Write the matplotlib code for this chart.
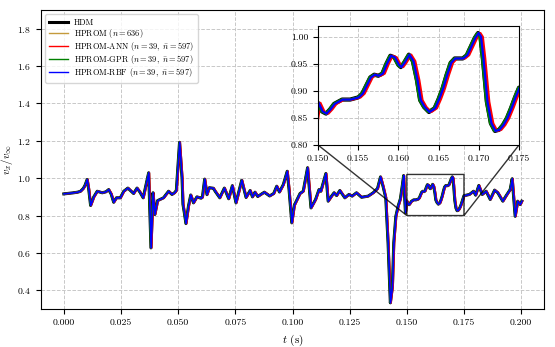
"""
velocity probe: HDM vs HPROM variants, with zoomed inset
"""
import matplotlib
matplotlib.use("Agg")
import matplotlib.pyplot as plt

# HDM trace (t in s, v_x / v_inf)
t_hdm = [0.0000, 0.0037, 0.0060, 0.0073, 0.0085, 0.0092, 0.0102, 0.0109, 0.0117, 0.0131,
         0.0146, 0.0168, 0.0184, 0.0196, 0.0207, 0.0218, 0.0230, 0.0247, 0.0262, 0.0280,
         0.0305, 0.0320, 0.0333, 0.0347, 0.0371, 0.0381, 0.0390, 0.0398, 0.0410, 0.0436,
         0.0458, 0.0473, 0.0484, 0.0492, 0.0506, 0.0517, 0.0521, 0.0527, 0.0534, 0.0545,
         0.0555, 0.0567, 0.0582, 0.0600, 0.0606, 0.0616, 0.0626, 0.0636, 0.0654, 0.0662,
         0.0682, 0.0702, 0.0721, 0.0737, 0.0753, 0.0778, 0.0797, 0.0815, 0.0825, 0.0836,
         0.0848, 0.0877, 0.0900, 0.0918, 0.0931, 0.0943, 0.0960, 0.0977, 0.0985, 0.0997,
         0.1008, 0.1033, 0.1047, 0.1066, 0.1081, 0.1101, 0.1116, 0.1124, 0.1146, 0.1156,
         0.1171, 0.1182, 0.1193, 0.1207, 0.1229, 0.1247, 0.1261, 0.1280, 0.1302, 0.1331,
         0.1353, 0.1372, 0.1385, 0.1396, 0.1408, 0.1418, 0.1428, 0.1437, 0.1443, 0.1452,
         0.1462, 0.1472, 0.1481, 0.1486, 0.1494, 0.1500, 0.1505, 0.1510, 0.1515, 0.1520,
         0.1530, 0.1540, 0.1550, 0.1555, 0.1560, 0.1565, 0.1570, 0.1575, 0.1580, 0.1585,
         0.1590, 0.1595, 0.1600, 0.1603, 0.1607, 0.1613, 0.1618, 0.1623, 0.1627, 0.1632,
         0.1638, 0.1645, 0.1650, 0.1655, 0.1660, 0.1665, 0.1670, 0.1675, 0.1680, 0.1685,
         0.1690, 0.1695, 0.1699, 0.1702, 0.1705, 0.1710, 0.1715, 0.1720, 0.1725, 0.1730,
         0.1735, 0.1740, 0.1745, 0.1750, 0.1774, 0.1792, 0.1801, 0.1815, 0.1830, 0.1847,
         0.1865, 0.1884, 0.1898, 0.1920, 0.1935, 0.1952, 0.1961, 0.1974, 0.1985, 0.1996,
         0.2003]
v_hdm = [0.916, 0.921, 0.925, 0.930, 0.945, 0.960, 0.993, 0.939, 0.854, 0.900,
         0.930, 0.922, 0.927, 0.939, 0.915, 0.871, 0.895, 0.895, 0.930, 0.947,
         0.918, 0.947, 0.925, 0.895, 1.029, 0.627, 0.922, 0.806, 0.880, 0.895,
         0.930, 0.913, 0.922, 0.934, 1.192, 1.000, 0.860, 0.815, 0.757, 0.850,
         0.910, 0.868, 0.900, 0.893, 0.898, 0.995, 0.912, 0.949, 0.946, 0.930,
         0.895, 0.947, 0.890, 0.960, 0.868, 0.989, 0.897, 0.934, 0.900, 0.925,
         0.902, 0.925, 0.905, 0.918, 0.957, 0.926, 0.966, 1.037, 0.939, 0.761,
         0.855, 0.918, 0.930, 1.056, 0.841, 0.886, 0.939, 0.930, 1.025, 0.877,
         0.904, 0.922, 0.907, 0.934, 0.895, 0.913, 0.904, 0.922, 0.898, 0.904,
         0.922, 0.945, 1.007, 0.957, 0.895, 0.654, 0.333, 0.421, 0.654, 0.796,
         0.850, 0.890, 0.966, 1.014, 0.815, 0.878, 0.862, 0.858, 0.866, 0.876,
         0.884, 0.884, 0.888, 0.895, 0.910, 0.925, 0.930, 0.928, 0.932, 0.950,
         0.965, 0.962, 0.948, 0.944, 0.952, 0.967, 0.955, 0.920, 0.883, 0.870,
         0.861, 0.868, 0.885, 0.905, 0.930, 0.952, 0.960, 0.960, 0.960, 0.966,
         0.982, 0.998, 1.007, 1.000, 0.960, 0.880, 0.840, 0.826, 0.828, 0.837,
         0.850, 0.868, 0.888, 0.906, 0.913, 0.930, 0.909, 0.961, 0.913, 0.930,
         0.886, 0.936, 0.922, 0.877, 0.907, 0.939, 0.997, 0.796, 0.877, 0.859,
         0.877]

# the reduced models follow the HDM trace with a small time lag (s)
lag_hprom = 0.00005
lag_ann = 0.00030
lag_gpr = -0.00010
lag_rbf = 0.00008

labels = ["HDM",
          r"HPROM ($n=636$)",
          r"HPROM-ANN ($n=39,\ \bar{n}=597$)",
          r"HPROM-GPR ($n=39,\ \bar{n}=597$)",
          r"HPROM-RBF ($n=39,\ \bar{n}=597$)"]

plt.rcParams["font.family"] = "serif"
plt.rcParams["font.serif"] = ["cmr10"]
plt.rcParams["mathtext.fontset"] = "cm"
plt.rcParams["axes.formatter.use_mathtext"] = True
plt.rcParams["font.size"] = 7


def draw(ax, lw_hdm, lw_rom):
    """
    draws the five curves on ax
    """
    ax.plot(t_hdm, v_hdm, color="black", lw=lw_hdm, label=labels[0])
    ax.plot([t + lag_hprom for t in t_hdm], v_hdm, color="#c49a3c", lw=lw_rom, label=labels[1])
    ax.plot([t + lag_ann for t in t_hdm], v_hdm, color="red", lw=lw_rom, label=labels[2])
    ax.plot([t + lag_gpr for t in t_hdm], v_hdm, color="green", lw=lw_rom, label=labels[3])
    ax.plot([t + lag_rbf for t in t_hdm], v_hdm, color="blue", lw=lw_rom, label=labels[4])
    ax.grid(True, ls="--", color="#c8c8c8", lw=0.7)
    ax.set_axisbelow(True)


fig = plt.figure(figsize=(5.55, 3.47), dpi=100)
ax = fig.add_axes([41 / 555, 38 / 347, 503 / 555, 299 / 347])
draw(ax, 2.2, 1.2)
ax.set_xlim(-0.01, 0.21)
ax.set_ylim(0.3, 1.9)
ax.set_xticks([0.0, 0.025, 0.05, 0.075, 0.1, 0.125, 0.15, 0.175, 0.2])
ax.set_xticklabels(["0.000", "0.025", "0.050", "0.075", "0.100", "0.125", "0.150", "0.175", "0.200"])
ax.set_yticks([0.4, 0.6, 0.8, 1.0, 1.2, 1.4, 1.6, 1.8])
ax.set_xlabel(r"$t$ (s)", fontsize=8)
ax.set_ylabel(r"$v_x/v_\infty$", fontsize=8)
ax.yaxis.set_label_coords(-0.052, 0.5)
leg = ax.legend(loc="upper left", fontsize=6.0, framealpha=0.8, handlelength=2.2,
                handletextpad=0.7, labelspacing=0.0, borderpad=0.5)
for line in leg.get_lines()[1:]:
    line.set_linewidth(1.0)

axins = fig.add_axes([318 / 555, 202 / 347, 201 / 555, 119 / 347])
draw(axins, 3.0, 1.6)
axins.set_xlim(0.15, 0.175)
axins.set_ylim(0.8, 1.02)
axins.set_xticks([0.15, 0.155, 0.16, 0.165, 0.17, 0.175])
axins.set_xticklabels(["0.150", "0.155", "0.160", "0.165", "0.170", "0.175"])
axins.set_yticks([0.8, 0.85, 0.9, 0.95, 1.0])
axins.set_yticklabels(["0.80", "0.85", "0.90", "0.95", "1.00"])
ax.indicate_inset_zoom(axins, edgecolor="black", alpha=0.8)

fig.savefig("out.png", dpi=100)
